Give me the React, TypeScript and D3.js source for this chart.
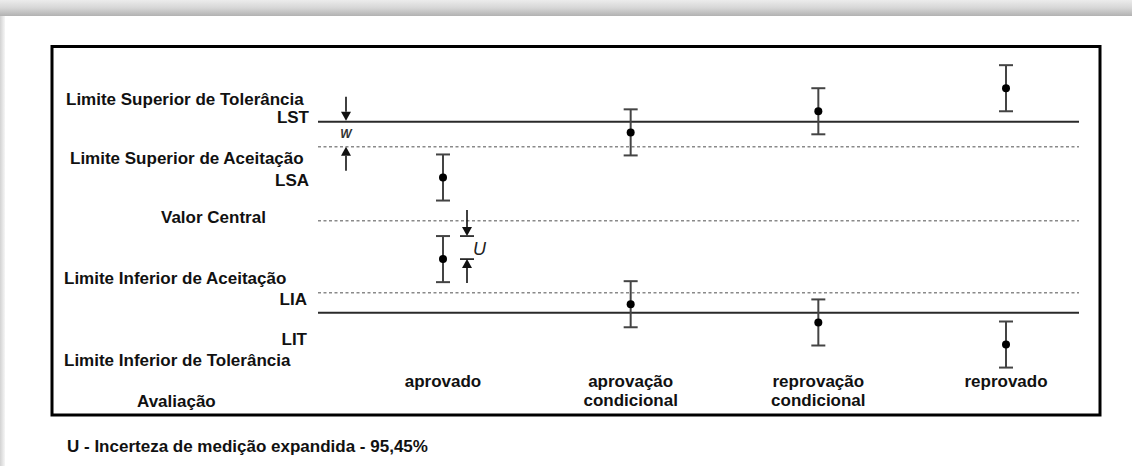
import React from "react";
import * as d3 from "d3";

// categories of the decision rule and the measured results (value ± U)
const categories = ["aprovado", "aprovação condicional", "reprovação condicional", "reprovado"];
const categoryLines = [["aprovado"], ["aprovação", "condicional"], ["reprovação", "condicional"], ["reprovado"]];
const upperResults = [4.5, 9.2, 11.4, 13.8];
const lowerResults = [-4.0, -8.7, -10.6, -12.9];
const uncertainty = 2.4;

// limits: LST, LIT (tolerance) and LSA, VC, LIA (acceptance / central)
const toleranceLimits = [10.3, -9.6];
const acceptanceLimits = [7.7, 0, -7.5];
const LST = toleranceLimits[0];
const LIT = toleranceLimits[1];
const LSA = acceptanceLimits[0];
const VC = acceptanceLimits[1];
const LIA = acceptanceLimits[2];

const W = 1132;
const H = 466;
const font = "'Liberation Sans', Arial, sans-serif";

function Arrow({ x, from, tip, bar }: { x: number; from: number; tip: number; bar?: boolean }) {
  const dir = tip > from ? 1 : -1;
  const head = 9;
  return (
    <g>
      <line x1={x} x2={x} y1={from} y2={tip - dir * head} stroke="#111" strokeWidth={1.6} />
      <path d={`M${x - 5},${tip - dir * head}L${x + 5},${tip - dir * head}L${x},${tip}Z`} fill="#111" />
      {bar && <line x1={x - 7} x2={x + 7} y1={tip} y2={tip} stroke="#111" strokeWidth={1.6} />}
    </g>
  );
}

export default function App() {
  const x = d3.scalePoint<string>().domain(categories).range([443, 1006]);
  const y = d3.scaleLinear().domain([-10, 10]).range([316.7, 124.7]);
  const lineX0 = 318;
  const lineX1 = 1079;

  const results = categories.flatMap((c, i) => [
    { c, v: upperResults[i] },
    { c, v: lowerResults[i] },
  ]);

  const wx = lineX0 + 28;
  const ux = (x("aprovado") as number) + 24;
  const lowApr = lowerResults[0];

  const txt = { fontFamily: font, fontWeight: 700, fontSize: 17, fill: "#111" } as const;

  return (
    <svg width={W} height={H} style={{ position: "absolute", left: 0, top: 0, background: "#fff" }}>
      <defs>
        <linearGradient id="topShade" x1="0" y1="0" x2="0" y2="1">
          <stop offset="0" stopColor="#ececec" />
          <stop offset="0.5" stopColor="#d6d6d6" />
          <stop offset="1" stopColor="#b2b2b2" />
        </linearGradient>
        <linearGradient id="leftShade" x1="0" y1="0" x2="1" y2="0">
          <stop offset="0" stopColor="#d2d2d2" />
          <stop offset="1" stopColor="#f6f6f6" />
        </linearGradient>
      </defs>
      <rect x={0} y={0} width={W} height={16} fill="url(#topShade)" />
      <rect x={0} y={16} width={5} height={H - 16} fill="url(#leftShade)" />

      {/* frame */}
      <rect x={52} y={46.5} width={1048} height={368.5} fill="none" stroke="#000" strokeWidth={3} />

      {/* limit lines */}
      {acceptanceLimits.map((v, i) => (
        <line key={"a" + i} x1={lineX0} x2={lineX1} y1={y(v)} y2={y(v)}
          stroke="#8a8a8a" strokeWidth={1.4} strokeDasharray="3,2.5" />
      ))}
      {toleranceLimits.map((v, i) => (
        <line key={"t" + i} x1={lineX0} x2={lineX1} y1={y(v)} y2={y(v)} stroke="#2a2a2a" strokeWidth={2} />
      ))}

      {/* error bars */}
      {results.map((d, i) => {
        const cx = x(d.c) as number;
        const y0 = y(d.v + uncertainty);
        const y1 = y(d.v - uncertainty);
        return (
          <g key={i}>
            <line x1={cx} x2={cx} y1={y0} y2={y1} stroke="#444" strokeWidth={2} />
            <line x1={cx - 7} x2={cx + 7} y1={y0} y2={y0} stroke="#444" strokeWidth={2} />
            <line x1={cx - 7} x2={cx + 7} y1={y1} y2={y1} stroke="#444" strokeWidth={2} />
            <circle cx={cx} cy={y(d.v)} r={4} fill="#000" />
          </g>
        );
      })}

      {/* W guard band arrows */}
      <Arrow x={wx} from={y(LST) - 25} tip={y(LST) - 1} />
      <Arrow x={wx} from={y(LSA) + 24} tip={y(LSA)} />
      <text x={wx} y={y(LST) + 16} textAnchor="middle" fontFamily={font} fontStyle="italic"
        fontWeight={700} fontSize={12} fill="#333">W</text>

      {/* U arrows */}
      <Arrow x={ux} from={y(lowApr + uncertainty) - 26} tip={y(lowApr + uncertainty)} bar />
      <Arrow x={ux} from={y(lowApr) + 24} tip={y(lowApr)} bar />
      <text x={ux + 6} y={y(lowApr) - 4} fontFamily={font} fontStyle="italic" fontSize={18} fill="#222">U</text>

      {/* left labels */}
      <text {...txt} x={66} y={y(LST) - 17}>Limite Superior de Tolerância</text>
      <text {...txt} x={309} y={y(LST) + 1} textAnchor="end">LST</text>
      <text {...txt} x={70} y={y(LSA) + 17}>Limite Superior de Aceitação</text>
      <text {...txt} x={309} y={y(LSA) + 39} textAnchor="end">LSA</text>
      <text {...txt} x={161} y={y(VC) + 2}>Valor Central</text>
      <text {...txt} x={64} y={y(LIA) - 9}>Limite Inferior de Aceitação</text>
      <text {...txt} x={307} y={y(LIA) + 12} textAnchor="end">LIA</text>
      <text {...txt} x={307} y={y(LIT) + 32} textAnchor="end">LIT</text>
      <text {...txt} x={64} y={y(LIT) + 53}>Limite Inferior de Tolerância</text>
      <text {...txt} x={137} y={407}>Avaliação</text>

      {/* category labels */}
      {categoryLines.map((lines, i) => (
        <text key={i} {...txt} x={x(categories[i]) as number} y={387} textAnchor="middle">
          {lines.map((l, j) => (
            <tspan key={j} x={x(categories[i]) as number} dy={j === 0 ? 0 : 19}>{l}</tspan>
          ))}
        </text>
      ))}

      <text {...txt} x={67} y={452}>U - Incerteza de medição expandida - 95,45%</text>
    </svg>
  );
}
